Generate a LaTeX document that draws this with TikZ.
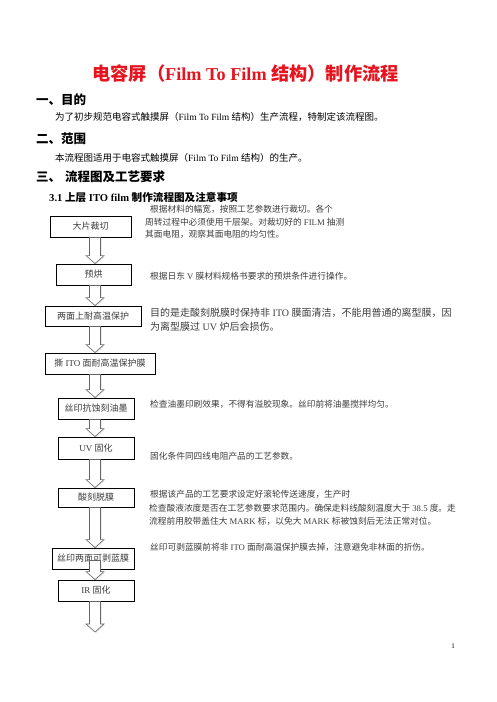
\documentclass[tikz,border=0pt]{standalone}
\usepackage{fontspec}
\setmainfont{Liberation Serif}
\newfontfamily\cjk{Noto Sans CJK SC}
\newcommand\zh[1]{{\cjk #1}}
\usepackage{tikz}
\usetikzlibrary{calc,shadows}
\definecolor{titlered}{RGB}{230,20,30}
\definecolor{notegray}{RGB}{60,60,60}

\tikzset{
    stepbox/.style={draw, line width=0.9pt, inner sep=0, text=notegray,
        font=\fontsize{9}{10}\selectfont},
    note/.style={anchor=west, inner sep=0, text=notegray,
        font=\fontsize{8.7}{10}\selectfont},
    headline/.style={anchor=west, inner sep=0, font=\bfseries\fontsize{12.5}{14}\selectfont},
    flow/.style={draw=black!60, fill=white, line width=0.6pt,
        drop shadow={shadow xshift=1pt, shadow yshift=-1pt, opacity=0.2},
        to path={let \p1=(\tikztostart), \p2=(\tikztotarget) in
            (\x1-5.5pt,\y1) -- (\x1-5.5pt,\y2+8pt) -- (\x1-9pt,\y2+8pt)
            -- (\x1,\y2) -- (\x1+9pt,\y2+8pt) -- (\x1+5.5pt,\y2+8pt)
            -- (\x1+5.5pt,\y1) -- cycle}}
}

\begin{document}
\begin{tikzpicture}[x=1pt, y=-1pt]
    \useasboundingbox (0,0) rectangle (496,702);

    \node (title) at (245.5,74) {\color{titlered}\bfseries\fontsize{18.2}{21}\selectfont
        \zh{电容屏（}Film To Film \zh{结构）制作流程}};
    \node[headline] (aim) at (36,100) {\zh{一、目的}};
    \node[anchor=west, inner sep=0, font=\fontsize{9.5}{11}\selectfont] (aimtext) at (55,117)
        {\zh{为了初步规范电容式触摸屏（}Film To Film \zh{结构）生产流程，特制定该流程图。}};
    \node[headline] (scope) at (36,139) {\zh{二、范围}};
    \node[anchor=west, inner sep=0, font=\fontsize{9.5}{11}\selectfont] (scopetext) at (55,158)
        {\zh{本流程图适用于电容式触摸屏（}Film To Film \zh{结构）的生产。}};
    \node[headline] (chart) at (36,177) {\zh{三、}\hspace{4pt}\zh{流程图及工艺要求}};
    \node[anchor=west, inner sep=0, font=\bfseries\fontsize{10.6}{12}\selectfont] (sub) at (49,197)
        {3.1 \zh{上层} ITO film \zh{制作流程图及注意事项}};

    \coordinate (axis) at (95,0);
    \node[stepbox, minimum width=81, minimum height=21] (cut) at (90.5,226.5) {\zh{大片裁切}};
    \node[stepbox, minimum width=75, minimum height=21] (bake) at (93.5,274.5) {\zh{预烘}};
    \node[stepbox, minimum width=96, minimum height=20] (protect) at (93,316) {\zh{两面上耐高温保护}};
    \node[stepbox, minimum width=110, minimum height=21] (peel) at (100,363.5) {\zh{撕} ITO \zh{面耐高温保护膜}};
    \node[stepbox, minimum width=76, minimum height=21] (ink) at (96,408.5) {\zh{丝印抗蚀刻油墨}};
    \node[stepbox, minimum width=76, minimum height=22] (uv) at (96,448) {UV \zh{固化}};
    \node[stepbox, minimum width=76, minimum height=19] (etch) at (96,497.5) {\zh{酸刻脱膜}};
    \node[stepbox, minimum width=82, minimum height=21] (blue) at (93,558.5) {\zh{丝印两面可剥蓝膜}};
    \node[stepbox, minimum width=76, minimum height=21] (ir) at (96,590.5) {IR \zh{固化}};
    \coordinate (out) at (95,632);

    \draw[flow] (axis |- cut.south) to (axis |- bake.north);
    \draw[flow] (axis |- bake.south) to (axis |- protect.north);
    \draw[flow] (axis |- protect.south) to (axis |- peel.north);
    \draw[flow] (axis |- peel.south) to (axis |- ink.north);
    \draw[flow] (axis |- ink.south) to (axis |- uv.north);
    \draw[flow] (axis |- uv.south) to (axis |- etch.north);
    \draw[flow] (axis |- etch.south) to (axis |- blue.north);
    \draw[flow] ([yshift=-2pt]axis |- blue.center) to (axis |- ir.north);
    \draw[flow] (axis |- ir.south) to (out);

    \node[note] (cuta) at (150,209) {\zh{根据材料的幅宽，按照工艺参数进行裁切。各个}};
    \node[note] (cutb) at (145,222) {\zh{周转过程中必须使用千层架。对裁切好的} FILM \zh{抽测}};
    \node[note] (cutc) at (145,234) {\zh{其面电阻，观察其面电阻的均匀性。}};
    \node[note] (baken) at (150,276) {\zh{根据日东} V \zh{膜材料规格书要求的预烘条件进行操作。}};
    \node[note, font=\fontsize{10}{12}\selectfont] (prota) at (150,313)
        {\zh{目的是走酸刻脱膜时保持非} ITO \zh{膜面清洁，不能用普通的离型膜，因}};
    \node[note, font=\fontsize{10}{12}\selectfont] (protb) at (150,327)
        {\zh{为离型膜过} UV \zh{炉后会损伤。}};
    \node[note] (inkn) at (150,404) {\zh{检查油墨印刷效果，不得有溢胶现象。丝印前将油墨搅拌均匀。}};
    \node[note] (uvn) at (150,456) {\zh{固化条件同四线电阻产品的工艺参数。}};
    \node[note] (etcha) at (150,494) {\zh{根据该产品的工艺要求设定好滚轮传送速度，生产时}};
    \node[note] (etchb) at (149,508) {\zh{检查酸液浓度是否在工艺参数要求范围内。确保走料线酸刻温度大于} 38.5 \zh{度。走}};
    \node[note] (etchc) at (149,521) {\zh{流程前用胶带盖住大} MARK \zh{标，以免大} MARK \zh{标被蚀刻后无法正常对位。}};
    \node[note] (bluen) at (150,547) {\zh{丝印可剥蓝膜前将非} ITO \zh{面耐高温保护膜去掉，注意避免非林面的折伤。}};

    \node[inner sep=0, font=\fontsize{7}{8}\selectfont] (page) at (453,646) {1};
\end{tikzpicture}
\end{document}
